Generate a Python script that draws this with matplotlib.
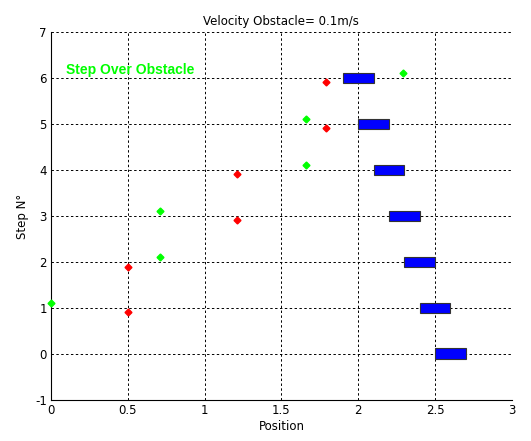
import matplotlib
matplotlib.use("Agg")
import matplotlib.pyplot as plt
from matplotlib.patches import Rectangle

title = "Velocity Obstacle= 0.1m/s"
steps = [0, 1, 2, 3, 4, 5, 6]
obstacle_start = [2.5, 2.4, 2.3, 2.2, 2.1, 2.0, 1.9]
obstacle_len = 0.2
red_x = [0.5, 0.5, 1.21, 1.21, 1.79, 1.79]
red_y = [0.91, 1.9, 2.92, 3.92, 4.92, 5.92]
green_x = [0.0, 0.71, 0.71, 1.66, 1.66, 2.29]
green_y = [1.1, 2.1, 3.12, 4.12, 5.12, 6.11]
xticks = [0, 0.5, 1, 1.5, 2, 2.5, 3]
xtick_labels = ["0", "0.5", "1", "1.5", "2", "2.5", "3"]
yticks = [-1, 0, 1, 2, 3, 4, 5, 6, 7]
ytick_labels = ["-1", "0", "1", "2", "3", "4", "5", "6", "7"]

plt.rcParams['font.family'] = ['DejaVu Sans']
fig = plt.figure(figsize=(5.31, 4.41), dpi=100)
ax = fig.add_axes([0.096, 0.093, 0.868, 0.834])

for s, x0 in zip(steps, obstacle_start):
    ax.add_patch(Rectangle((x0, s - 0.11), obstacle_len, 0.23, facecolor='#0000ff',
                           edgecolor='#333333', linewidth=0.8, zorder=3))

ax.plot(red_x, red_y, linestyle='none', marker='D', markersize=3.5, color='#ff0000', zorder=4)
ax.plot(green_x, green_y, linestyle='none', marker='D', markersize=3.5, color='#00ff00', zorder=4, clip_on=False)

ax.text(0.1, 6.18, "Step Over Obstacle", color='#00ff00', fontsize=10, fontweight='bold',
        va='center', ha='left', family='Liberation Sans')

ax.set_xlim(0, 3)
ax.set_ylim(-1, 7)
ax.set_xticks(xticks)
ax.set_xticklabels(xtick_labels)
ax.set_yticks(yticks)
ax.set_yticklabels(ytick_labels)
ax.grid(True, linestyle=(0, (2.5, 2.5)), color='black', linewidth=0.7)
ax.set_axisbelow(True)
for side in ['top', 'right']:
    ax.spines[side].set_visible(False)
for side in ['left', 'bottom']:
    ax.spines[side].set_linewidth(0.8)
ax.tick_params(labelsize=8.5, length=0, pad=3)
ax.set_title(title, fontsize=8.5, pad=5)
ax.set_xlabel("Position", fontsize=8.5, labelpad=2)
ax.set_ylabel("Step N°", fontsize=8.5, labelpad=4)

fig.savefig("out.png", dpi=100)
